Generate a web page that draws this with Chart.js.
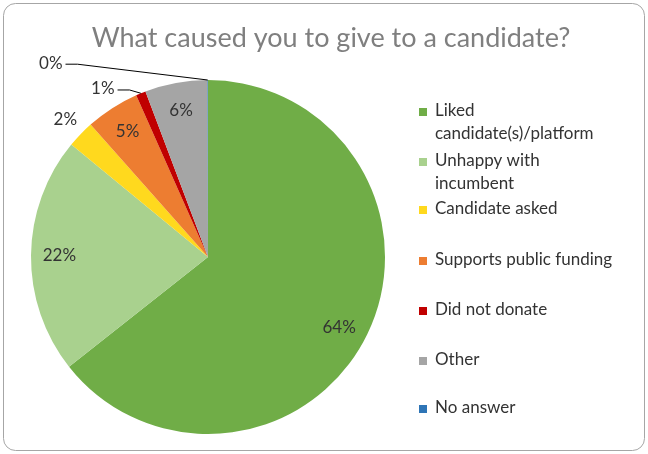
<!DOCTYPE html>
<html>
<head>
<meta charset="utf-8">
<script src="https://cdn.jsdelivr.net/npm/chart.js@4"></script>
<style>
  html, body { margin: 0; padding: 0; background: #fff; }
  #wrap { position: relative; width: 648px; height: 454px; }
</style>
</head>
<body>
<div id="wrap"><canvas id="c"></canvas></div>
<script>
// data
const TITLE = 'What caused you to give to a candidate?';
const LABELS = ['Liked candidate(s)/platform', 'Unhappy with incumbent', 'Candidate asked',
  'Supports public funding', 'Did not donate', 'Other', 'No answer'];
const LEGEND_LINES = [['Liked', 'candidate(s)/platform'], ['Unhappy with', 'incumbent'], ['Candidate asked'],
  ['Supports public funding'], ['Did not donate'], ['Other'], ['No answer']];
const VALUES = [64.4, 21.6, 2.5, 4.9, 0.9, 5.7, 0.05];
const PCT_LABELS = ['64%', '22%', '2%', '5%', '1%', '6%', '0%'];
const COLORS = ['#70ad47', '#a9d18e', '#ffd91e', '#ed7d31', '#c00000', '#a5a5a5', '#2e75b6'];

// layout
const FONT = 'Lato, "Open Sans", sans-serif';
const LEGEND_Y = [111, 161, 209, 260, 310, 360, 408];
const LEGEND_LINE_H = 23;

function roundRect(ctx, x, y, w, h, r) {
  ctx.beginPath();
  ctx.moveTo(x + r, y);
  ctx.arcTo(x + w, y, x + w, y + h, r);
  ctx.arcTo(x + w, y + h, x, y + h, r);
  ctx.arcTo(x, y + h, x, y, r);
  ctx.arcTo(x, y, x + w, y, r);
  ctx.closePath();
}

const decor = {
  id: 'decor',
  beforeDraw(chart) {
    const ctx = chart.ctx;
    ctx.save();
    ctx.fillStyle = '#fff';
    ctx.fillRect(0, 0, chart.width, chart.height);
    ctx.restore();
  },
  afterDraw(chart) {
    const ctx = chart.ctx;
    ctx.save();
    // frame
    roundRect(ctx, 3.5, 3.5, 641, 447, 12);
    ctx.strokeStyle = '#a6a6a6';
    ctx.lineWidth = 1;
    ctx.stroke();

    // title
    ctx.fillStyle = '#7f7f7f';
    ctx.font = '27px ' + FONT;
    ctx.textAlign = 'center';
    ctx.textBaseline = 'middle';
    ctx.fillText(TITLE, 331, 38);

    // percentage labels
    const arcs = chart.getDatasetMeta(0).data;
    ctx.font = '17px ' + FONT;
    ctx.fillStyle = '#333333';
    arcs.forEach((a, i) => {
      const { x, y, startAngle, endAngle, outerRadius } = a.getProps(['x', 'y', 'startAngle', 'endAngle', 'outerRadius'], true);
      const mid = (startAngle + endAngle) / 2;
      let rf = 0.84, off = 0;
      if (i === 0) off = 0.04;
      if (i === 2) rf = 1.12;
      if (i === 4) { rf = 1.12; off = -0.17; }
      if (i === 6) { rf = 1.41; off = -0.68; }
      const ang = mid + off;
      const lx = x + Math.cos(ang) * outerRadius * rf;
      const ly = y + Math.sin(ang) * outerRadius * rf;
      ctx.fillText(PCT_LABELS[i], lx, ly);
      if (i === 4 || i === 6) {
        const ex = x + Math.cos(mid) * outerRadius;
        const ey = y + Math.sin(mid) * outerRadius;
        const sx = lx + ctx.measureText(PCT_LABELS[i]).width / 2 + 3;
        ctx.beginPath();
        ctx.moveTo(sx, ly + 1);
        ctx.lineTo(sx + 12, ly + 1);
        ctx.lineTo(ex, ey);
        ctx.strokeStyle = '#000';
        ctx.lineWidth = 1;
        ctx.stroke();
      }
    });

    // legend
    ctx.textAlign = 'left';
    ctx.font = '17px ' + FONT;
    LEGEND_LINES.forEach((lines, i) => {
      const y0 = LEGEND_Y[i];
      ctx.fillStyle = COLORS[i];
      ctx.fillRect(419, y0 - 3, 8, 8);
      ctx.fillStyle = '#333333';
      lines.forEach((t, j) => ctx.fillText(t, 435, y0 + j * LEGEND_LINE_H));
    });
    ctx.restore();
  }
};

new Chart(document.getElementById('c'), {
  type: 'pie',
  data: {
    labels: LABELS,
    datasets: [{ data: VALUES, backgroundColor: COLORS, borderWidth: 0 }]
  },
  options: {
    responsive: true,
    maintainAspectRatio: false,
    animation: false,
    layout: { padding: { left: 31, right: 263, top: 80, bottom: 20 } },
    plugins: { legend: { display: false }, tooltip: { enabled: false } }
  },
  plugins: [decor]
});
</script>
</body>
</html>
